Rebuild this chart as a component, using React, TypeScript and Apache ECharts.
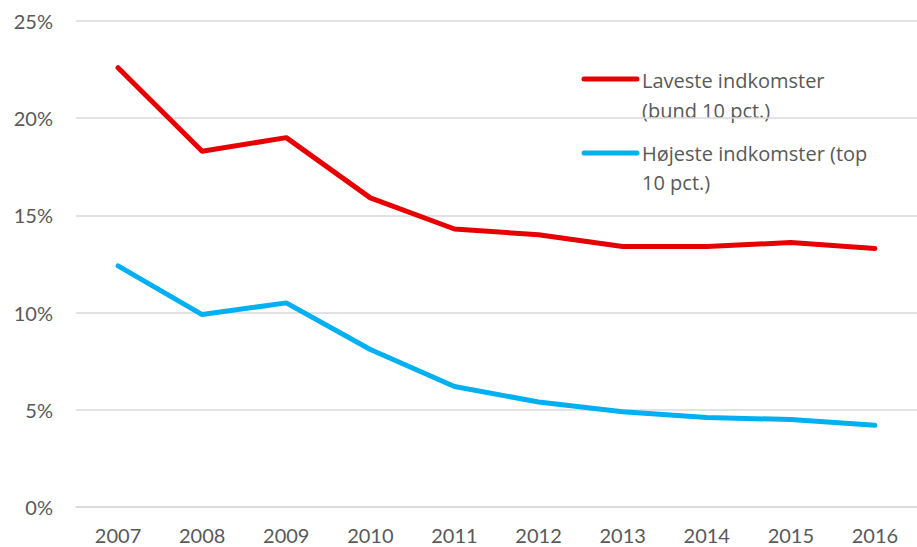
import React, { useEffect, useRef } from "react";
import * as echarts from "echarts";

const years = ["2007", "2008", "2009", "2010", "2011", "2012", "2013", "2014", "2015", "2016"];
const lowIncome = [22.6, 18.3, 19.0, 15.9, 14.3, 14.0, 13.4, 13.4, 13.6, 13.3];
const highIncome = [12.4, 9.9, 10.5, 8.1, 6.2, 5.4, 4.9, 4.6, 4.5, 4.2];
const lowLabel = ["Laveste indkomster", "(bund 10 pct.)"];
const highLabel = ["Højeste indkomster (top", "10 pct.)"];

const RED = "#E60000";
const BLUE = "#00B0F0";
const TEXT = "#595959";
const FONT = "Lato";

export default function App() {
  const ref = useRef<HTMLDivElement>(null);
  useEffect(() => {
    const chart = echarts.init(ref.current!, null, { renderer: "svg" });
    const legendText = (x: number, y: number, t: string) => ({
      type: "text",
      x,
      y,
      style: { text: t, fill: TEXT, font: `20px 'Open Sans'`, verticalAlign: "middle", align: "left" },
    });
    chart.setOption({
      animation: false,
      grid: { left: 76, width: 848, top: 21, bottom: 40, containLabel: false },
      xAxis: {
        type: "category",
        data: years,
        boundaryGap: true,
        axisLine: { show: true, lineStyle: { color: "#d9d9d9", width: 1.5 } },
        axisTick: { show: false },
        axisLabel: { color: TEXT, fontFamily: FONT, fontSize: 20, lineHeight: 20, margin: 18 },
      },
      yAxis: {
        type: "value",
        min: 0,
        max: 25,
        interval: 5,
        axisLine: { show: false },
        axisTick: { show: false },
        splitLine: { lineStyle: { color: "#d9d9d9", width: 1.5 } },
        axisLabel: { color: TEXT, fontFamily: FONT, fontSize: 20, margin: 23, formatter: "{value}%" },
      },
      series: [
        {
          type: "line",
          name: lowLabel.join(" "),
          data: lowIncome,
          showSymbol: false,
          lineStyle: { color: RED, width: 5, cap: "round", join: "round" },
          itemStyle: { color: RED },
        },
        {
          type: "line",
          name: highLabel.join(" "),
          data: highIncome,
          showSymbol: false,
          lineStyle: { color: BLUE, width: 5, cap: "round", join: "round" },
          itemStyle: { color: BLUE },
        },
      ],
      graphic: [
        { type: "line", shape: { x1: 584, y1: 79, x2: 637, y2: 79 }, style: { stroke: RED, lineWidth: 5, lineCap: "round" } },
        legendText(642, 80, lowLabel[0]),
        legendText(642, 110, lowLabel[1]),
        { type: "line", shape: { x1: 584, y1: 153, x2: 637, y2: 153 }, style: { stroke: BLUE, lineWidth: 5, lineCap: "round" } },
        legendText(642, 153, highLabel[0]),
        legendText(642, 182, highLabel[1]),
      ],
    });
    return () => chart.dispose();
  }, []);
  return (
    <div
      ref={ref}
      style={{ position: "fixed", left: 0, top: 0, width: 917, height: 547, background: "#fff" }}
    />
  );
}
